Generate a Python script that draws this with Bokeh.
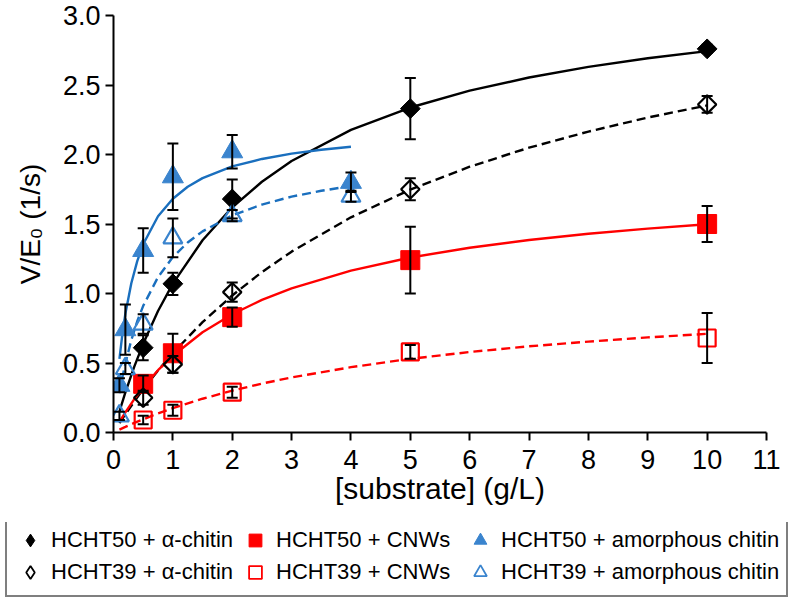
from bokeh.plotting import figure
from bokeh.layouts import column
from bokeh.models import (Legend, LegendItem, Whisker, TeeHead, ColumnDataSource,
                          FixedTicker, PrintfTickFormatter, Range1d)
from bokeh.embed import file_html
from bokeh.resources import INLINE

# ---------------- data ----------------
labels = ["HCHT50 + α-chitin", "HCHT50 + CNWs", "HCHT50 + amorphous chitin",
          "HCHT39 + α-chitin", "HCHT39 + CNWs", "HCHT39 + amorphous chitin"]

x_main = [0.5, 1, 2, 5, 10]
x_amor = [0.1, 0.2, 0.5, 1, 2, 4]

y_50_alpha = [0.61, 1.07, 1.68, 2.33, 2.76]
e_50_alpha = [0.09, 0.08, 0.14, 0.22, 0.03]
y_39_alpha = [0.25, 0.49, 1.01, 1.75, 2.36]
e_39_alpha = [0.05, 0.06, 0.07, 0.08, 0.06]
y_50_cnw = [0.35, 0.57, 0.83, 1.24, 1.50]
e_50_cnw = [0.06, 0.14, 0.07, 0.24, 0.13]
y_39_cnw = [0.09, 0.16, 0.29, 0.58, 0.68]
e_39_cnw = [0.03, 0.04, 0.04, 0.05, 0.18]
y_50_amor = [0.34, 0.74, 1.31, 1.84, 2.02, 1.80]
e_50_amor = [0.05, 0.18, 0.16, 0.24, 0.12, 0.07]
y_39_amor = [0.12, 0.46, 0.78, 1.40, 1.56, 1.70]
e_39_amor = [0.03, 0.04, 0.07, 0.14, 0.04, 0.04]

# fitted curves
cx_long = [0.1, 0.2, 0.35, 0.5, 0.75, 1, 1.5, 2, 2.5, 3, 4, 5, 6, 7, 8, 9, 10]
cy_50_alpha = [0.151, 0.289, 0.474, 0.638, 0.874, 1.071, 1.383, 1.620, 1.804, 1.953,
               2.177, 2.338, 2.459, 2.554, 2.630, 2.692, 2.744]
cy_39_alpha = [0.067, 0.131, 0.223, 0.310, 0.446, 0.571, 0.794, 0.986, 1.154, 1.301,
               1.548, 1.748, 1.912, 2.049, 2.165, 2.266, 2.353]
cy_50_cnw = [0.076, 0.145, 0.240, 0.325, 0.448, 0.552, 0.721, 0.851, 0.954, 1.037,
             1.165, 1.259, 1.329, 1.385, 1.430, 1.467, 1.498]
cy_39_cnw = [0.021, 0.040, 0.069, 0.095, 0.137, 0.175, 0.243, 0.301, 0.352, 0.396,
             0.470, 0.530, 0.579, 0.620, 0.654, 0.684, 0.710]
cx_short = [0.1, 0.15, 0.2, 0.3, 0.4, 0.5, 0.75, 1, 1.25, 1.5, 2, 2.5, 3, 3.5, 4]
cy_50_amor = [0.529, 0.709, 0.854, 1.074, 1.233, 1.354, 1.556, 1.682, 1.768, 1.830,
              1.914, 1.968, 2.006, 2.034, 2.056]
cy_39_amor = [0.283, 0.397, 0.497, 0.665, 0.800, 0.911, 1.118, 1.262, 1.367, 1.447,
              1.562, 1.640, 1.697, 1.739, 1.773]

x_ticks = list(range(0, 12))
y_ticks = [0.0, 0.5, 1.0, 1.5, 2.0, 2.5, 3.0]

# ---------------- styling ----------------
FONT = "Liberation Sans"
BLACK = "#000000"
RED = "#FF0000"
BLUE_LINE = "#1A6FBE"
BLUE_MARK = "#3A84CE"
DIAMOND_ANGLE = 0.7853981634  # square turned 45 degrees

p = figure(width=800, height=522, output_backend="svg", toolbar_location=None,
           x_range=Range1d(0, 11), y_range=Range1d(0, 3),
           min_border_left=113, min_border_right=34, min_border_top=15,
           min_border_bottom=90)
p.frame_align = False
p.outline_line_color = None
p.grid.visible = False
p.background_fill_color = "white"
p.border_fill_color = "white"

for ax in (p.xaxis[0], p.yaxis[0]):
    ax.axis_line_width = 2
    ax.axis_line_color = BLACK
    ax.major_tick_line_width = 2
    ax.major_tick_line_color = BLACK
    ax.major_tick_out = 8
    ax.major_tick_in = 0
    ax.minor_tick_line_color = None
    ax.major_label_text_font = FONT
    ax.major_label_text_font_size = "27px"
    ax.major_label_text_color = BLACK
    ax.axis_label_text_font = FONT
    ax.axis_label_text_font_style = "normal"
    ax.axis_label_text_color = BLACK

p.xaxis.axis_label_text_font_size = "30px"
p.yaxis.axis_label_text_font_size = "28px"
p.xaxis.ticker = FixedTicker(ticks=x_ticks)
p.yaxis.ticker = FixedTicker(ticks=y_ticks)
p.yaxis.formatter = PrintfTickFormatter(format="%.1f")
p.xaxis.axis_label = "[substrate] (g/L)"
p.yaxis.axis_label = "V/E\u2080 (1/s)"
p.xaxis.major_label_standoff = 9
p.yaxis.major_label_standoff = 5
p.xaxis.axis_label_standoff = 0
p.yaxis.axis_label_standoff = 14

# ---------------- curves ----------------
p.line(cx_long, cy_50_alpha, line_color=BLACK, line_width=2.4)
p.line(cx_long, cy_39_alpha, line_color=BLACK, line_width=2.4, line_dash="9 5")
p.line(cx_long, cy_50_cnw, line_color=RED, line_width=2.4)
p.line(cx_long, cy_39_cnw, line_color=RED, line_width=2.4, line_dash="9 5")
p.line(cx_short, cy_50_amor, line_color=BLUE_LINE, line_width=2.4)
p.line(cx_short, cy_39_amor, line_color=BLUE_LINE, line_width=2.4, line_dash="9 5")

# ---------------- error bars ----------------
def add_err(xs, ys, es):
    src = ColumnDataSource(dict(x=xs, lo=[y - e for y, e in zip(ys, es)],
                                hi=[y + e for y, e in zip(ys, es)]))
    w = Whisker(source=src, base="x", lower="lo", upper="hi",
                line_color=BLACK, line_width=2, level="glyph",
                upper_head=TeeHead(size=11, line_width=2, line_color=BLACK),
                lower_head=TeeHead(size=11, line_width=2, line_color=BLACK))
    p.add_layout(w)

add_err(x_main, y_50_alpha, e_50_alpha)
add_err(x_main, y_39_alpha, e_39_alpha)
add_err(x_main, y_50_cnw, e_50_cnw)
add_err(x_main, y_39_cnw, e_39_cnw)
add_err(x_amor, y_50_amor, e_50_amor)
add_err(x_amor, y_39_amor, e_39_amor)

# ---------------- markers ----------------
styles = [
    dict(marker="square", angle=DIAMOND_ANGLE, size=14, fill_color=BLACK,
         line_color=BLACK, line_width=1),
    dict(marker="square", size=19, fill_color=RED, line_color=RED, line_width=1),
    dict(marker="triangle", size=21, fill_color=BLUE_MARK, line_color=BLUE_MARK, line_width=1),
    dict(marker="square", angle=DIAMOND_ANGLE, size=13, fill_color=None,
         line_color=BLACK, line_width=2.2),
    dict(marker="square", size=17, fill_color=None, line_color=RED, line_width=2.2),
    dict(marker="triangle", size=19, fill_color=None, line_color=BLUE_MARK, line_width=2.2),
]
series = [(x_main, y_50_alpha), (x_main, y_50_cnw), (x_amor, y_50_amor),
          (x_main, y_39_alpha), (x_main, y_39_cnw), (x_amor, y_39_amor)]
for (xs, ys), st in zip(series, styles):
    p.scatter(xs, ys, **st)

# ---------------- legend (own strip below the plot) ----------------
# the strip's ranges lie away from the data, so only the legend is visible
pl = figure(width=800, height=80, output_backend="svg", toolbar_location=None,
            x_range=Range1d(-3, -2), y_range=Range1d(-3, -2),
            x_axis_location=None, y_axis_location=None,
            min_border_left=0, min_border_right=0, min_border_top=0,
            min_border_bottom=0)
pl.frame_align = False
pl.outline_line_color = None
pl.grid.visible = False
leg_renderers = []
for (xs, ys), st in zip(series, styles):
    lst = dict(st)
    if "angle" in lst:          # legend glyphs ignore the angle: use a true diamond
        lst.pop("angle")
        lst["marker"] = "diamond"
    if lst["line_width"] < 2:
        lst["line_width"] = 1
    else:
        lst["line_width"] = 1.8
    leg_renderers.append(pl.scatter(xs, ys, **lst))

items = [LegendItem(label=lab, renderers=[r]) for lab, r in zip(labels, leg_renderers)]
legend = Legend(items=items, orientation="horizontal", ncols=3,
                location=(5, 5), margin=0, padding=7, spacing=0,
                glyph_width=32, glyph_height=32, label_standoff=5,
                label_text_font=FONT, label_text_font_size="22px",
                label_text_color=BLACK, label_height=30, label_width=188,
                border_line_color=BLACK, border_line_width=2,
                background_fill_color="white", background_fill_alpha=1)
pl.add_layout(legend, "center")

layout = column(p, pl, spacing=0)
open("out.html", "w").write(file_html(layout, INLINE))
